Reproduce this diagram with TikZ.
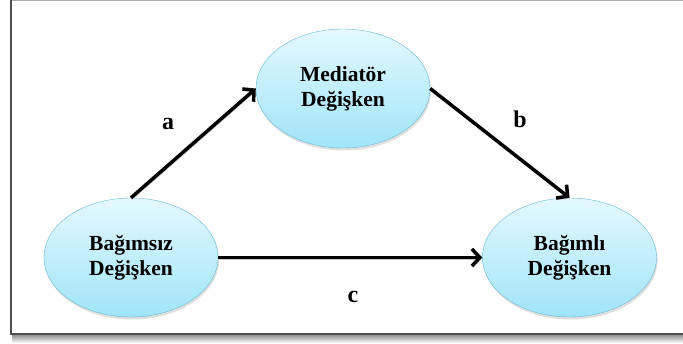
\documentclass[tikz,border=0pt]{standalone}
\usepackage{fontspec}
\setmainfont{Liberation Serif}
\usetikzlibrary{shapes.geometric, arrows.meta, shadows}
\definecolor{ellTop}{RGB}{228,248,254}
\definecolor{ellBottom}{RGB}{160,229,249}
\definecolor{ellBorder}{RGB}{104,186,212}
\definecolor{frameDark}{RGB}{80,80,80}
\definecolor{frameLight}{RGB}{170,170,170}
\tikzstyle{construct} = [ellipse,
minimum width=174pt,
minimum height=119pt,
inner sep=0pt,
align=center,
font=\fontsize{21.5}{25}\selectfont\bfseries,
draw=ellBorder,
top color=ellTop,
bottom color=ellBottom,
drop shadow={opacity=0.25, shadow xshift=1pt, shadow yshift=-2.5pt}]
\tikzstyle{letter} = [font=\fontsize{24}{28}\selectfont\bfseries]
\tikzstyle{arrow} = [line width=3.5pt,
-{Straight Barb[length=8pt, width=17pt]},
preaction={draw=black!22, transform canvas={xshift=1pt, yshift=-2pt}}]

\begin{document}
\begin{tikzpicture}[x=1pt, y=-1pt, node distance=169pt]
\useasboundingbox (0,0) rectangle (683,343);
\fill[white] (0,0) rectangle (683,343);
\shade[top color=black!45, bottom color=white] (12,334.5) rectangle (683,343);
\draw[frameLight, line width=1.2pt] (10,0.6) -- (683,0.6);
\draw[frameDark, line width=2pt] (11,0) -- (11,334) -- (683,334);

\node (med) [construct] at (343,88.5) {Mediatör\\Değişken};
\node (indep) [construct, below of=med, xshift=-212pt] {Bağımsız\\Değişken};
\node (dep) [construct, below of=med, xshift=226.5pt] {Bağımlı\\Değişken};
\node (a) [letter] at (168,124) {a};
\node (b) [letter] at (520,119) {b};
\node (c) [letter] at (353,297) {c};

\draw [arrow] (indep.north) -- (med.west);
\draw [arrow] (med.east) -- (dep.north);
\draw [arrow] (indep.east) -- (dep.west);
\end{tikzpicture}
\end{document}
